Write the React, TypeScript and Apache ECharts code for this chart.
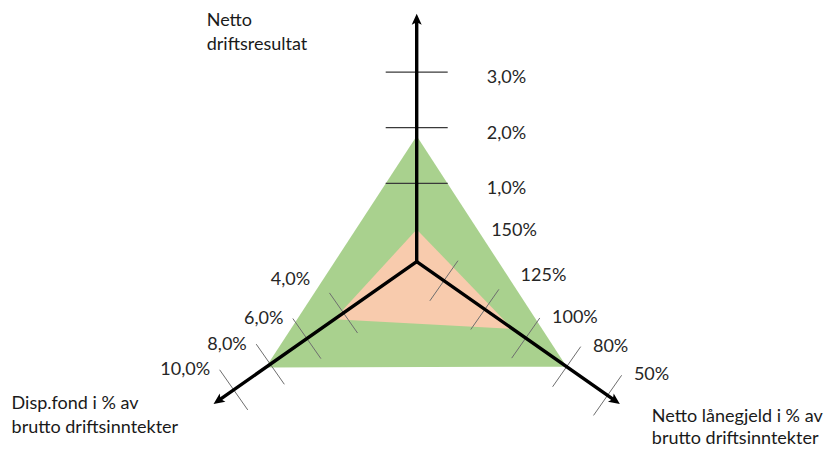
import { useEffect, useRef } from 'react';
import * as echarts from 'echarts';

// Tick values on each of the three axes
const resultTicks = [1, 2, 3]; // Netto driftsresultat, %
const fundTicks = [4, 6, 8, 10]; // Disp.fond, % av brutto driftsinntekter
const debtTicks = [150, 125, 100, 80, 50]; // Netto lånegjeld, % av brutto driftsinntekter

// Axis titles
const resultTitle = 'Netto\ndriftsresultat';
const fundTitle = 'Disp.fond i % av\nbrutto driftsinntekter';
const debtTitle = 'Netto lånegjeld i % av\nbrutto driftsinntekter';

// Area values, ordered [netto driftsresultat, disp.fond, netto lånegjeld]
const targetValues = [1.85, 8.25, 80];
const actualValues = [0.17, 4.5, 108];

const FONT = 'Lato, "Open Sans", sans-serif';
const LABEL_CLEARANCE = 14; // horizontal gap kept between a tick label and the target area

// Linear value -> fraction of axis length
const linear = (min: number, max: number) => (v: number) => (v - min) / (max - min);

// Evenly spaced ticks carrying arbitrary values; values between ticks are interpolated
const ordinal = (ticks: number[], first: number, last: number) => (v: number) => {
  const n = ticks.length;
  let i = 0;
  while (i < n - 2 && !((v - ticks[i]) * (v - ticks[i + 1]) <= 0)) i++;
  const idx = i + (v - ticks[i]) / (ticks[i + 1] - ticks[i]);
  return (idx - first) / (last - first);
};

const pct1 = (v: number) => v.toFixed(1).replace('.', ',') + '%';
const pct0 = (v: number) => `${v}%`;

type AxisDef = {
  angle: number;
  ticks: number[];
  scale: (v: number) => number;
  format: (v: number) => string;
  side: number;
  tickHalf: number;
  tickColor: string;
  tickWidth: number;
  labelAlong: number;
  labelPerp: number;
  labelAlign: 'left' | 'right';
  title: string;
  titleDx: number;
  titleDy: number;
  titleLineHeight: number;
};

const AXES: AxisDef[] = [
  {
    angle: 90,
    ticks: resultTicks,
    scale: linear(-0.41, 4.05),
    format: pct1,
    side: 1,
    tickHalf: 31,
    tickColor: '#3a3a3a',
    tickWidth: 1.3,
    labelAlong: -4,
    labelPerp: 70,
    labelAlign: 'left',
    title: resultTitle,
    titleDx: -210,
    titleDy: -7,
    titleLineHeight: 24,
  },
  {
    angle: 215,
    ticks: fundTicks,
    scale: linear(0, 11.1),
    format: pct1,
    side: 1,
    tickHalf: 24.5,
    tickColor: '#6e6e6e',
    tickWidth: 1,
    labelAlong: 7,
    labelPerp: 31,
    labelAlign: 'right',
    title: fundTitle,
    titleDx: -202,
    titleDy: -14,
    titleLineHeight: 24,
  },
  {
    angle: 325,
    ticks: debtTicks,
    scale: ordinal(debtTicks, -0.665, 4.3),
    format: pct0,
    side: -1,
    tickHalf: 24.5,
    tickColor: '#6e6e6e',
    tickWidth: 1,
    labelAlong: 9,
    labelPerp: 33,
    labelAlign: 'left',
    title: debtTitle,
    titleDx: 32,
    titleDy: 0,
    titleLineHeight: 22,
  },
];

function insidePolygon(pt: number[], poly: number[][]) {
  let inside = false;
  for (let i = 0, j = poly.length - 1; i < poly.length; j = i++) {
    const [xi, yi] = poly[i];
    const [xj, yj] = poly[j];
    if (yi > pt[1] !== yj > pt[1] && pt[0] < ((xj - xi) * (pt[1] - yi)) / (yj - yi) + xi) {
      inside = !inside;
    }
  }
  return inside;
}

function areaPoints(api: any, values: number[]) {
  return AXES.map((ax, i) => api.coord([ax.scale(values[i]), ax.angle]));
}

function renderArea(params: any, api: any) {
  const points = areaPoints(api, [api.value(0), api.value(1), api.value(2)]);
  return {
    type: 'polygon',
    shape: { points },
    style: { fill: api.visual('color') },
  };
}

function renderAxis(params: any, api: any) {
  const ax = AXES[params.dataIndex];
  const o = api.coord([0, ax.angle]);
  const tip = api.coord([1, ax.angle]);
  const len = Math.hypot(tip[0] - o[0], tip[1] - o[1]);
  const u = [(tip[0] - o[0]) / len, (tip[1] - o[1]) / len];
  const p = [-u[1] * ax.side, u[0] * ax.side];
  const target = areaPoints(api, targetValues);
  const children: any[] = [];

  ax.ticks.forEach((v) => {
    const c = api.coord([ax.scale(v), ax.angle]);
    children.push({
      type: 'line',
      shape: {
        x1: c[0] - p[0] * ax.tickHalf,
        y1: c[1] - p[1] * ax.tickHalf,
        x2: c[0] + p[0] * ax.tickHalf,
        y2: c[1] + p[1] * ax.tickHalf,
      },
      style: { stroke: ax.tickColor, lineWidth: ax.tickWidth },
    });

    // label sits beside the tick, pushed further out while it would touch the target area
    const gap = ax.labelAlign === 'left' ? -LABEL_CLEARANCE : LABEL_CLEARANCE;
    let t = ax.labelPerp;
    let lx = 0;
    let ly = 0;
    for (let k = 0; k < 200; k++) {
      lx = c[0] + u[0] * ax.labelAlong + p[0] * t;
      ly = c[1] + u[1] * ax.labelAlong + p[1] * t;
      if (!insidePolygon([lx + gap, ly], target)) break;
      t += 0.5;
    }

    children.push({
      type: 'text',
      x: lx,
      y: ly,
      style: {
        text: ax.format(v),
        fill: '#262626',
        fontSize: 18,
        fontFamily: FONT,
        align: ax.labelAlign,
        textAlign: ax.labelAlign,
        verticalAlign: 'middle',
        textVerticalAlign: 'middle',
      },
    });
  });

  // axis shaft
  children.push({
    type: 'line',
    shape: { x1: o[0], y1: o[1], x2: tip[0] - u[0] * 8, y2: tip[1] - u[1] * 8 },
    style: { stroke: '#000', lineWidth: 3.4, lineCap: 'round' },
  });

  // arrow head
  const base = [tip[0] - u[0] * 11, tip[1] - u[1] * 11];
  const q = [-u[1], u[0]];
  children.push({
    type: 'polygon',
    shape: {
      points: [
        [tip[0], tip[1]],
        [base[0] + q[0] * 5, base[1] + q[1] * 5],
        [tip[0] - u[0] * 8.5, tip[1] - u[1] * 8.5],
        [base[0] - q[0] * 5, base[1] - q[1] * 5],
      ],
    },
    style: { fill: '#000' },
  });

  // axis title
  children.push({
    type: 'text',
    x: tip[0] + ax.titleDx,
    y: tip[1] + ax.titleDy,
    style: {
      text: ax.title,
      fill: '#1a1a1a',
      fontSize: 18,
      lineHeight: ax.titleLineHeight,
      fontFamily: FONT,
      align: 'left',
      textAlign: 'left',
      verticalAlign: 'top',
      textVerticalAlign: 'top',
    },
  });

  return { type: 'group', children };
}

export default function App() {
  const ref = useRef<HTMLDivElement>(null);

  useEffect(() => {
    if (!ref.current) return;
    const chart = echarts.init(ref.current, undefined, { renderer: 'svg' });
    chart.setOption({
      animation: false,
      backgroundColor: '#ffffff',
      polar: { center: [416.7, 261.7], radius: 248 },
      angleAxis: {
        type: 'value',
        min: 0,
        max: 360,
        startAngle: 0,
        clockwise: false,
        show: false,
      },
      radiusAxis: { type: 'value', min: 0, max: 1, show: false },
      series: [
        {
          type: 'custom',
          coordinateSystem: 'polar',
          silent: true,
          renderItem: renderArea,
          data: [
            { value: targetValues, itemStyle: { color: '#a9d18e' } },
            { value: actualValues, itemStyle: { color: '#f8cbad' } },
          ],
          z: 1,
        },
        {
          type: 'custom',
          coordinateSystem: 'polar',
          silent: true,
          renderItem: renderAxis,
          data: AXES.map((_, i) => [i, 0]),
          z: 3,
        },
      ],
    });
    return () => chart.dispose();
  }, []);

  return (
    <div
      ref={ref}
      style={{ position: 'fixed', left: 0, top: 0, width: 828, height: 449, background: '#fff' }}
    />
  );
}
